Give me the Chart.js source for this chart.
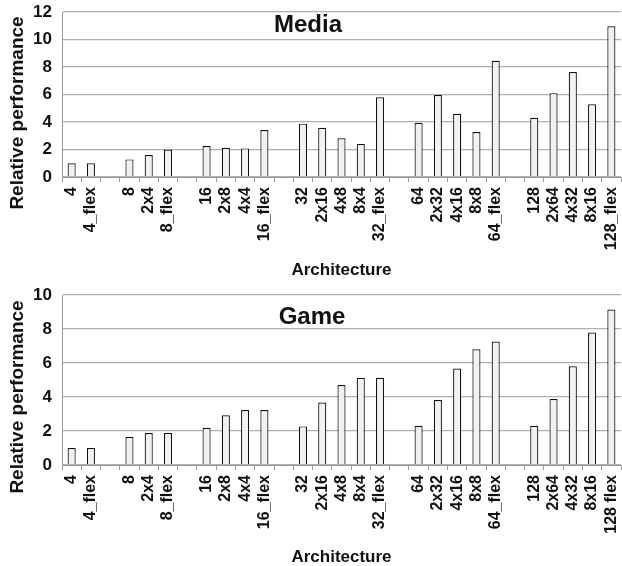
<!DOCTYPE html>
<html><head><meta charset="utf-8">
<script src="https://cdn.jsdelivr.net/npm/chart.js@4"></script>
<style>
html,body{margin:0;padding:0;background:#fff;}
.wrap{position:absolute;left:0;width:622px;}
</style></head><body>
<div class="wrap" style="top:0;height:283px;"><canvas id="c1" width="622" height="283"></canvas></div>
<div class="wrap" style="top:283px;height:283px;"><canvas id="c2" width="622" height="283"></canvas></div>
<script>
const mediaLabels = ["4","4_flex","","8","2x4","8_flex","","16","2x8","4x4","16_flex","","32","2x16","4x8","8x4","32_flex","","64","2x32","4x16","8x8","64_flex","","128","2x64","4x32","8x16","128_flex"];
const gameLabels = ["4","4_flex","","8","2x4","8_flex","","16","2x8","4x4","16_flex","","32","2x16","4x8","8x4","32_flex","","64","2x32","4x16","8x8","64_flex","","128","2x64","4x32","8x16","128 flex"];
const mediaValues = [1.0,1.0,null,1.28,1.6,2.0,null,2.25,2.13,2.08,3.42,null,3.88,3.58,2.81,2.4,5.8,null,3.95,5.96,4.6,3.27,8.46,null,4.31,6.1,7.64,5.29,10.96];
const gameValues = [1.0,1.0,null,1.66,1.88,1.88,null,2.19,2.92,3.23,3.23,null,2.27,3.68,4.7,5.13,5.13,null,2.31,3.82,5.68,6.81,7.26,null,2.31,3.88,5.81,7.79,9.14];
const mediaTicks = {max:12, step:2};
const gameTicks = {max:10, step:2};

const FONT = "'Liberation Sans', Arial, sans-serif";

function make(id, labels, values, ticks, title, cfg){
  const textPlugin = {
    id:'inTitle',
    afterDraw(chart){
      const ctx = chart.ctx;
      ctx.save();
      ctx.fillStyle = '#111';
      ctx.textAlign = 'center';
      ctx.textBaseline = 'middle';
      ctx.font = "bold 24px " + FONT;
      ctx.fillText(title, cfg.titleX, cfg.titleY);
      ctx.font = "bold 19px " + FONT;
      ctx.translate(cfg.yTitleX, cfg.yTitleY);
      ctx.rotate(-Math.PI/2);
      ctx.fillText('Relative performance', 0, 0);
      ctx.restore();
    }
  };
  return new Chart(document.getElementById(id), {
    type:'bar',
    data:{labels:labels, datasets:[{data:values, backgroundColor:'#f1f1f1', borderColor:'#111', borderWidth:1.2, barPercentage:0.42, categoryPercentage:1.0}]},
    options:{
      responsive:false, animation:false, devicePixelRatio:1,
      layout:{padding:{top:cfg.top,right:1,left:0,bottom:0}},
      plugins:{legend:{display:false}, tooltip:{enabled:false}},
      scales:{
        x:{
          grid:{display:true, drawOnChartArea:false, drawTicks:true, tickLength:5, color:'#999', offset:true},
          border:{color:'#999'},
          ticks:{color:'#111', font:{family:FONT, size:16, weight:'bold'}, maxRotation:90, minRotation:90, autoSkip:false, padding:5},
          title:{display:true, text:'Architecture', color:'#111', font:{family:FONT, size:17, weight:'bold'}, padding:{top:0,bottom:cfg.xTitlePad}},
          afterFit(s){ s.height = cfg.xHeight; s.paddingLeft = 0; s.paddingRight = 0; }
        },
        y:{
          min:0, max:ticks.max,
          grid:{color:'#b0b0b0', lineWidth:1.3, drawTicks:false},
          border:{color:'#999'},
          ticks:{stepSize:ticks.step, color:'#111', font:{family:FONT, size:17, weight:'bold'}, padding:10},
          afterFit(s){ s.width = 62; s.paddingTop = 0; s.paddingBottom = 0; }
        }
      }
    },
    plugins:[textPlugin]
  });
}
make('c1', mediaLabels, mediaValues, mediaTicks, 'Media', {top:12, titleX:308, titleY:25, yTitleX:18, yTitleY:113, xHeight:106, xTitlePad:2});
make('c2', gameLabels, gameValues, gameTicks, 'Game', {top:12, titleX:312, titleY:34, yTitleX:18, yTitleY:114, xHeight:101, xTitlePad:-2});
</script>
</body></html>
